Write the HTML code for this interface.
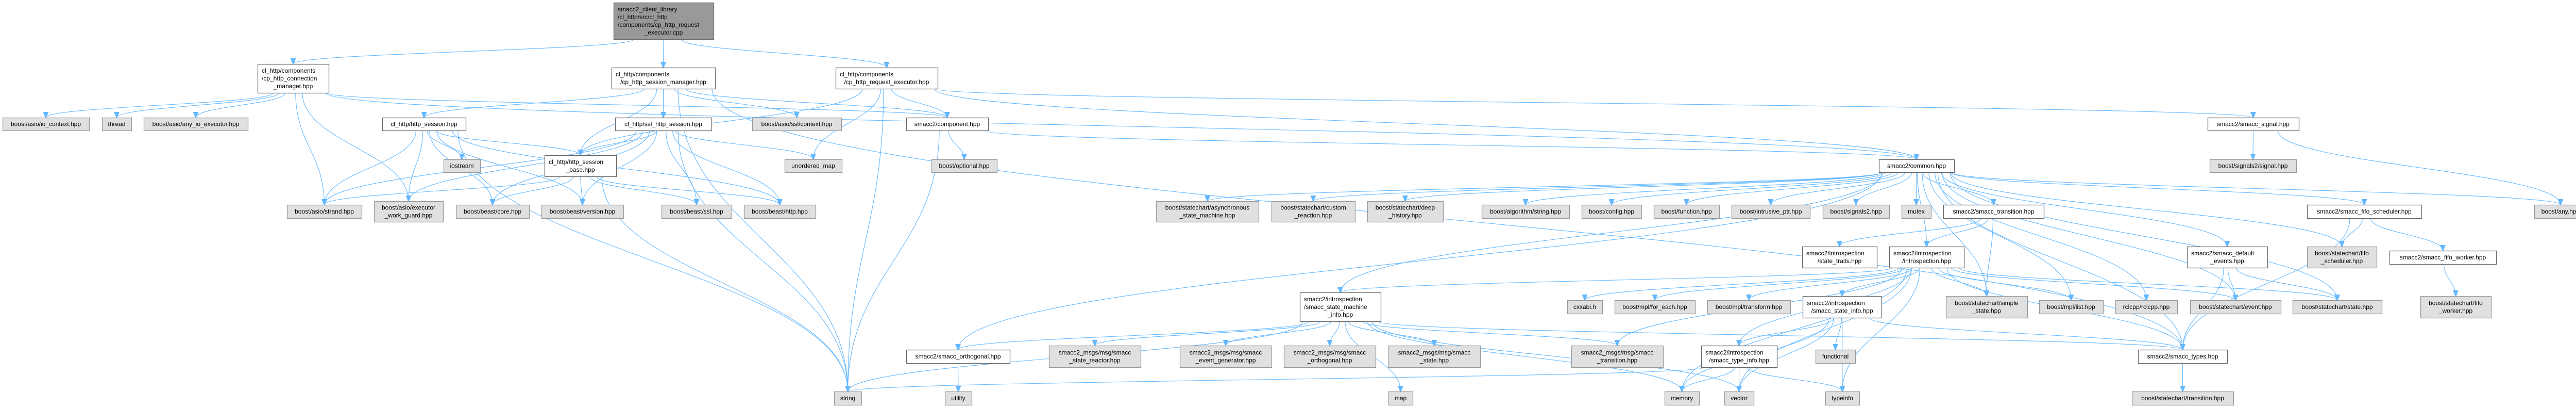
<!DOCTYPE html>
<html><head><meta charset="utf-8">
<style>
html,body{margin:0;padding:0;background:#fff;}
svg{display:block;}
text{font-family:"Liberation Sans",Arial,sans-serif;font-size:12px;fill:#000;}
.e{fill:none;stroke:#63b8ff;stroke-width:1.1;}
</style></head>
<body>
<svg id="g" xmlns="http://www.w3.org/2000/svg" width="5023" height="791" viewBox="0 0 5023 791">
<defs>
<marker id="ah" markerWidth="12" markerHeight="10" refX="11" refY="5" orient="auto" markerUnits="userSpaceOnUse">
<path d="M0,0 L12,5 L0,10 z" fill="#63b8ff" stroke="#63b8ff"/>
</marker>
</defs>
<g id="edges"></g>
<g id="nodes"></g>
</svg>
<script>
var N={
top:[1191,5,1385,76,2,["smacc2_client_library","/cl_http/src/cl_http","/components/cp_http_request","_executor.cpp"]],
cm:[500,124,638,180,0,["cl_http/components","/cp_http_connection","_manager.hpp"]],
sm:[1187,131,1388,172,0,["cl_http/components","/cp_http_session_manager.hpp"]],
re:[1622,131,1820,172,0,["cl_http/components","/cp_http_request_executor.hpp"]],
ioc:[5,228,173,253,1,["boost/asio/io_context.hpp"]],
thr:[198,228,255,253,1,["thread"]],
anyio:[279,228,481,253,1,["boost/asio/any_io_executor.hpp"]],
hs:[742,228,904,253,0,["cl_http/http_session.hpp"]],
ssl:[1194,228,1381,253,0,["cl_http/ssl_http_session.hpp"]],
sslctx:[1460,228,1633,253,1,["boost/asio/ssl/context.hpp"]],
comp:[1759,228,1918,253,0,["smacc2/component.hpp"]],
sig:[4285,228,4462,253,0,["smacc2/smacc_signal.hpp"]],
hsb:[1057,301,1196,342,0,["cl_http/http_session","_base.hpp"]],
ios:[861,309,932,334,1,["iostream"]],
um:[1523,309,1634,334,1,["unordered_map"]],
opt:[1808,309,1935,334,1,["boost/optional.hpp"]],
common:[3647,309,3793,334,0,["smacc2/common.hpp"]],
sigsig:[4289,309,4457,334,1,["boost/signals2/signal.hpp"]],
strand:[557,397,702,423,1,["boost/asio/strand.hpp"]],
ewg:[726,390,860,430,1,["boost/asio/executor","_work_guard.hpp"]],
core:[885,397,1027,423,1,["boost/beast/core.hpp"]],
ver:[1051,397,1210,423,1,["boost/beast/version.hpp"]],
bssl:[1284,397,1420,423,1,["boost/beast/ssl.hpp"]],
http:[1444,397,1583,423,1,["boost/beast/http.hpp"]],
asm:[2244,390,2443,430,1,["boost/statechart/asynchronous","_state_machine.hpp"]],
cr:[2468,390,2630,430,1,["boost/statechart/custom","_reaction.hpp"]],
dh:[2654,390,2801,430,1,["boost/statechart/deep","_history.hpp"]],
alg:[2876,397,3046,423,1,["boost/algorithm/string.hpp"]],
cfg:[3070,397,3186,423,1,["boost/config.hpp"]],
fn:[3210,397,3337,423,1,["boost/function.hpp"]],
ip:[3361,397,3513,423,1,["boost/intrusive_ptr.hpp"]],
s2:[3538,397,3667,423,1,["boost/signals2.hpp"]],
mutex:[3691,397,3748,423,1,["mutex"]],
tr:[3772,397,3967,423,0,["smacc2/smacc_transition.hpp"]],
fs:[4478,397,4700,423,0,["smacc2/smacc_fifo_scheduler.hpp"]],
any:[4919,397,5021,423,1,["boost/any.hpp"]],
st:[3498,478,3643,519,0,["smacc2/introspection","/state_traits.hpp"]],
intro:[3667,478,3812,519,0,["smacc2/introspection","/introspection.hpp"]],
de:[4245,478,4401,519,0,["smacc2/smacc_default","_events.hpp"]],
fsb:[4478,478,4613,519,1,["boost/statechart/fifo","_scheduler.hpp"]],
fw:[4638,486,4845,512,0,["smacc2/smacc_fifo_worker.hpp"]],
smi:[2523,567,2680,623,0,["smacc2/introspection","/smacc_state_machine","_info.hpp"]],
cxx:[3042,582,3110,608,1,["cxxabi.h"]],
fe:[3134,582,3290,608,1,["boost/mpl/for_each.hpp"]],
tf:[3314,582,3475,608,1,["boost/mpl/transform.hpp"]],
ssi:[3499,574,3652,616,0,["smacc2/introspection","/smacc_state_info.hpp"]],
ss:[3777,574,3935,616,1,["boost/statechart/simple","_state.hpp"]],
list:[3958,582,4082,608,1,["boost/mpl/list.hpp"]],
rcl:[4106,582,4226,608,1,["rclcpp/rclcpp.hpp"]],
ev:[4251,582,4427,608,1,["boost/statechart/event.hpp"]],
sts:[4450,582,4623,608,1,["boost/statechart/state.hpp"]],
fwb:[4698,574,4835,616,1,["boost/statechart/fifo","_worker.hpp"]],
rsr:[2036,670,2214,712,1,["smacc2_msgs/msg/smacc","_state_reactor.hpp"]],
reg:[2290,670,2468,712,1,["smacc2_msgs/msg/smacc","_event_generator.hpp"]],
rorth:[2492,670,2670,712,1,["smacc2_msgs/msg/smacc","_orthogonal.hpp"]],
rst:[2695,670,2873,712,1,["smacc2_msgs/msg/smacc","_state.hpp"]],
orth:[1759,678,1960,704,0,["smacc2/smacc_orthogonal.hpp"]],
rtr:[3050,670,3228,712,1,["smacc2_msgs/msg/smacc","_transition.hpp"]],
sti:[3302,670,3449,712,0,["smacc2/introspection","/smacc_type_info.hpp"]],
func:[3524,678,3601,704,1,["functional"]],
types:[4150,678,4323,704,0,["smacc2/smacc_types.hpp"]],
string:[1619,759,1672,785,1,["string"]],
utility:[1834,759,1886,785,1,["utility"]],
map:[2695,759,2742,785,1,["map"]],
memory:[3231,759,3298,785,1,["memory"]],
vector:[3347,759,3404,785,1,["vector"]],
typeinfo:[3543,759,3609,785,1,["typeinfo"]],
trh:[4138,759,4335,785,1,["boost/statechart/transition.hpp"]]
};
var E={
top:["cm","sm","re"],
cm:["ioc","thr","anyio","strand","ewg","comp","common"],
sm:["hs","ssl","hsb","sslctx","comp","string","types"],
re:["comp","um","string","hsb","sig","common"],
hs:["hsb","ios","strand","ewg","core","ver","http","string"],
ssl:["hsb","strand","ewg","core","ver","bssl","http","um","string"],
hsb:["strand","core","ver","http","bssl","string"],
comp:["opt","common","string"],
common:["asm","cr","dh","alg","cfg","fn","ip","s2","mutex","tr","smi","intro","de","fs","any","list","rcl","ev","sts","types","ss","orth","fsb"],
sig:["sigsig","any"],
tr:["st","intro","ss"],
intro:["smi","cxx","fe","tf","ssi","ss","typeinfo","memory","sti","rtr","types","list","ev","sts","vector"],
ssi:["sti","func","memory","vector","typeinfo","types"],
sti:["memory","vector","typeinfo","string"],
smi:["rsr","reg","rorth","rst","map","memory","vector","rtr","string","orth","types"],
de:["ev","sts","types"],
fs:["fsb","fw","types"],
fw:["fwb"],
types:["trh"],
orth:["utility"]
};
var NS="http://www.w3.org/2000/svg";
var eg=document.getElementById("edges"),ng=document.getElementById("nodes");
for(var s in E){var a=N[s];var scx=(a[0]+a[2])/2,sw=a[2]-a[0];
E[s].forEach(function(t){var b=N[t];var tcx=(b[0]+b[2])/2;
var off=(tcx-scx)*0.08;var lim=sw/2-6;if(off>lim)off=lim;if(off<-lim)off=-lim;
var sx=scx+off,sy=a[3];var tx=tcx,ty=b[1];var dy=ty-sy;
var p=document.createElementNS(NS,"path");
p.setAttribute("d","M"+sx+","+sy+" C"+sx+","+(sy+dy*0.45)+" "+tx+","+(ty-dy*0.45)+" "+tx+","+ty);
p.setAttribute("class","e");p.setAttribute("marker-end","url(#ah)");eg.appendChild(p);});}
for(var k in N){var a=N[k];var r=document.createElementNS(NS,"rect");
r.setAttribute("x",a[0]+0.5);r.setAttribute("y",a[1]+0.5);r.setAttribute("width",a[2]-a[0]);r.setAttribute("height",a[3]-a[1]);
r.setAttribute("fill",a[4]==2?"#999999":(a[4]==1?"#e0e0e0":"#ffffff"));
r.setAttribute("stroke",a[4]==1?"#999999":"#666666");r.setAttribute("stroke-width","1.3");ng.appendChild(r);
var L=a[5],n=L.length,cy=(a[1]+a[3])/2,lh=15,cx=(a[0]+a[2])/2;
for(var i=0;i<n;i++){var t=document.createElementNS(NS,"text");
t.setAttribute("x",(n>1&&a[4]!=1&&i<n-1)?a[0]+8:cx);
t.setAttribute("text-anchor",(n>1&&a[4]!=1&&i<n-1)?"start":"middle");
t.setAttribute("y",cy+(i-(n-1)/2)*lh+4);t.textContent=L[i];ng.appendChild(t);}}
</script>
</body></html>
